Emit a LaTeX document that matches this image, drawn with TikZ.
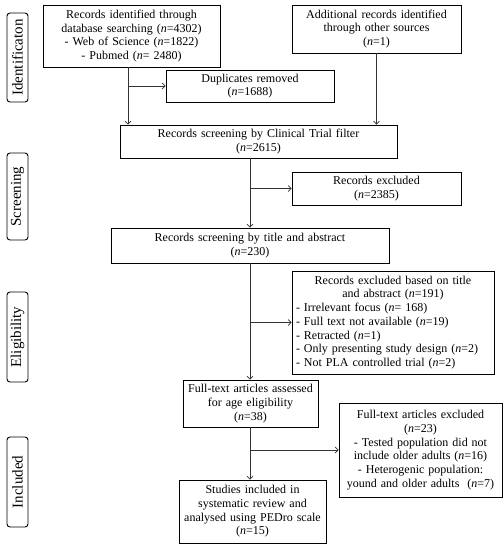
\documentclass[tikz,border=0pt]{standalone}
\usepackage{fontspec}
\setmainfont{Liberation Serif}
\usetikzlibrary{arrows.meta}
\begin{document}
\begin{tikzpicture}[x=1pt,y=-1pt,
  box/.style={draw=black, line width=0.8pt, inner xsep=2pt, inner ysep=1pt, align=center,
    font=\fontsize{12}{13.7}\selectfont},
  side/.style={draw=black, line width=0.9pt, rounded corners=3pt, inner sep=0pt,
    minimum height=21pt, rotate=90, font=\fontsize{15}{18}\selectfont},
  arr/.style={draw=black!80, line width=0.7pt, -{Straight Barb[length=3pt,width=6pt]}}]
\useasboundingbox (0,0) rectangle (503,550);

% phase labels
\node[side, minimum width=89pt] (L1) at (17.5,57.5) {Identificaton};
\node[side, minimum width=87pt] (L2) at (17.5,196.5) {Screening};
\node[side, minimum width=90pt] (L3) at (17.5,337) {Eligibility};
\node[side, minimum width=90pt] (L4) at (17.5,482) {Included};

% boxes
\node[box, text width=173pt, minimum height=62pt] (A) at (131.5,36)
  {Records identified through\\ database searching (\textit{n}=4302)\\ - Web of Science (\textit{n}=1822)\\ - Pubmed (\textit{n}= 2480)};
\node[box, text width=165pt, minimum height=48pt] (B) at (376.5,29)
  {Additional records identified\\ through other sources\\ (\textit{n}=1)};
\node[box, text width=164pt, minimum height=32pt] (D) at (250,86)
  {Duplicates removed\\ (\textit{n}=1688)};
\node[box, text width=273pt, minimum height=33pt] (S1) at (258.5,141.5)
  {Records screening by Clinical Trial filter\\ (\textit{n}=2615)};
\node[box, text width=165pt, minimum height=33pt] (X1) at (376.5,188.5)
  {Records excluded\\ (\textit{n}=2385)};
\node[box, text width=274pt, minimum height=35pt] (S2) at (250,245.5)
  {Records screening by title and abstract\\ (\textit{n}=230)};
\node[box, align=left, inner xsep=4pt, text width=194pt, minimum height=103pt] (X2) at (393,322.5)
  {\hspace*{\fill}Records excluded based on title\hspace*{\fill}\null\\
   \hspace*{\fill}and abstract (\textit{n}=191)\hspace*{\fill}\null\\
   - Irrelevant focus (\textit{n}= 168)\\
   - Full text not available (\textit{n}=19)\\
   - Retracted (\textit{n}=1)\\
   - Only presenting study design (\textit{n}=2)\\
   - Not PLA controlled trial (\textit{n}=2)};
\node[box, text width=131pt, minimum height=47pt] (FT) at (250.5,403.5)
  {Full-text articles assessed\\ for age eligibility\\ (\textit{n}=38)};
\node[box, text width=159pt, minimum height=94pt] (X3) at (420.5,450)
  {Full-text articles excluded\\ (\textit{n}=23)\\ - Tested population did not\\ include older adults (\textit{n}=16)\\ - Heterogenic population:\\ yound and older adults~~(\textit{n}=7)};
\node[box, text width=143pt, minimum height=63pt] (In) at (252.5,511.5)
  {Studies included in\\ systematic review and\\ analysed using PEDro scale\\ (\textit{n}=15)};

% connectors
\coordinate (ca) at (128,0);
\coordinate (cm) at (250,0);
\draw[arr] (ca |- A.south) -- (ca |- S1.north);
\draw[arr] (ca |- D.west) -- (D.west);
\draw[arr] (B.south) -- (B.south |- S1.north);
\draw[arr] (cm |- S1.south) -- (cm |- S2.north);
\draw[arr] (cm |- X1.west) -- (X1.west);
\draw[arr] (cm |- S2.south) -- (cm |- FT.north);
\draw[arr] (cm |- X2.west) -- (X2.west);
\draw[arr] (cm |- FT.south) -- (cm |- In.north);
\draw[arr] (cm |- X3.west) -- (X3.west);
\end{tikzpicture}
\end{document}
